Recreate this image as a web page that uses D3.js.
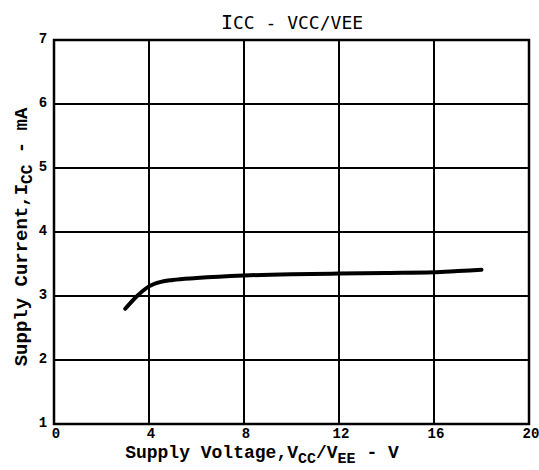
<!DOCTYPE html>
<html><head><meta charset="utf-8">
<script src="https://cdn.jsdelivr.net/npm/d3@7"></script>
<style>body{margin:0;background:#fff}svg{display:block}</style>
</head><body>
<script>
const xTicks = [0, 4, 8, 12, 16, 20];
const yTicks = [1, 2, 3, 4, 5, 6, 7];
const voltage = [3, 3.5, 4, 4.5, 5, 6, 8, 10, 12, 14, 16, 17, 18];
const current = [2.8, 3.0, 3.15, 3.22, 3.25, 3.28, 3.32, 3.34, 3.35, 3.36, 3.37, 3.39, 3.41];

const W = 539, H = 470;
const svg = d3.select("body").append("svg").attr("width", W).attr("height", H);
const x = d3.scaleLinear().domain([0, 20]).range([54, 529]);
const y = d3.scaleLinear().domain([1, 7]).range([424, 40]);

// grid
svg.append("g").selectAll("line").data(xTicks).join("line")
  .attr("x1", d => x(d)).attr("x2", d => x(d)).attr("y1", y(1)).attr("y2", y(7))
  .attr("stroke", "#000").attr("stroke-width", 2);
svg.append("g").selectAll("line").data(yTicks).join("line")
  .attr("x1", x(0)).attr("x2", x(20)).attr("y1", d => y(d)).attr("y2", d => y(d))
  .attr("stroke", "#000").attr("stroke-width", 2);
svg.append("rect").attr("x", x(0)).attr("y", y(7)).attr("width", x(20) - x(0)).attr("height", y(1) - y(7))
  .attr("fill", "none").attr("stroke", "#000").attr("stroke-width", 2.5);

const font = "'Liberation Mono', 'DejaVu Sans Mono', monospace";
// tick labels
svg.append("g").selectAll("text").data(xTicks).join("text")
  .attr("x", d => x(d) + 2).attr("y", 438).attr("text-anchor", "middle")
  .attr("font-family", font).attr("font-weight", "bold").attr("font-size", 14).text(d => d);
svg.append("g").selectAll("text").data(yTicks).join("text")
  .attr("x", 43).attr("y", d => y(d) + 3).attr("text-anchor", "middle")
  .attr("font-family", font).attr("font-weight", "bold").attr("font-size", 14).text(d => d);

// curve
const pts = voltage.map((v, i) => [v, current[i]]);
svg.append("path").datum(pts)
  .attr("d", d3.line().x(d => x(d[0])).y(d => y(d[1])).curve(d3.curveMonotoneX))
  .attr("fill", "none").attr("stroke", "#000").attr("stroke-width", 4).attr("stroke-linecap", "round");

// title
const t = svg.append("text").attr("x", 292).attr("y", 29).attr("text-anchor", "middle")
  .attr("font-family", "'DejaVu Sans Mono', monospace").attr("font-size", 20);
t.append("tspan").text("I");
t.append("tspan").attr("font-size", 18).text("CC - V");
t.append("tspan").attr("font-size", 18).text("CC/V");
t.append("tspan").attr("font-size", 18).text("EE");

// x axis label
const xl = svg.append("text").attr("x", 262).attr("y", 458).attr("text-anchor", "middle")
  .attr("font-family", font).attr("font-weight", "bold").attr("font-size", 18);
xl.append("tspan").text("Supply Voltage,V");
xl.append("tspan").attr("dy", 5).attr("font-size", 15).text("CC");
xl.append("tspan").attr("dy", -5).text("/V");
xl.append("tspan").attr("dy", 5).attr("font-size", 15).text("EE");
xl.append("tspan").attr("dy", -5).text(" - V");

// y axis label
const yl = svg.append("text").attr("transform", "translate(27,237) rotate(-90)").attr("text-anchor", "middle")
  .attr("font-family", font).attr("font-weight", "bold").attr("font-size", 19);
yl.append("tspan").text("Supply Current,I");
yl.append("tspan").attr("dy", 5).attr("font-size", 16).text("CC");
yl.append("tspan").attr("dy", -5).text(" - mA");
</script>
</body></html>
